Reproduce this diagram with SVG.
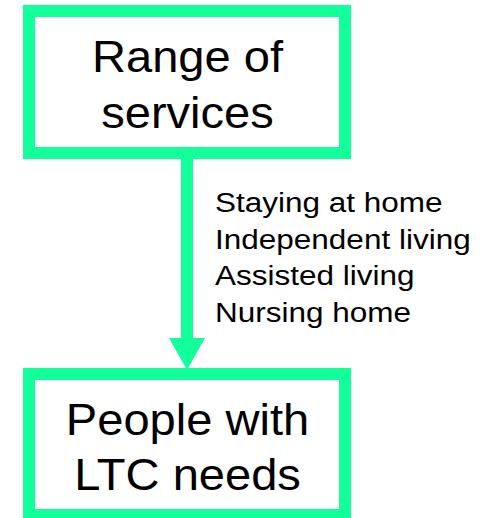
<svg xmlns="http://www.w3.org/2000/svg" width="498" height="518" viewBox="0 0 498 518">
  <style>
    .box { fill: #ffffff; stroke: #12FF9A; stroke-width: 12; }
    .big { font-family: "Liberation Sans", Arial, sans-serif; font-size: 44px; fill: #000000; text-anchor: middle; }
    .small { font-family: "Liberation Sans", Arial, sans-serif; font-size: 28px; fill: #000000; }
    .arrow { fill: #12FF9A; stroke: none; }
  </style>
  <rect width="498" height="518" fill="#ffffff"/>
  <g id="connectors">
    <rect class="arrow" x="181" y="158" width="12" height="182"/>
    <polygon class="arrow" points="169,338 205,338 187,370"/>
    <g id="connector-label" transform="translate(215,0) scale(1.125,1)">
      <text class="small" x="0" y="212">Staying at home</text>
      <text class="small" x="0" y="248.7">Independent living</text>
      <text class="small" x="0" y="285.3">Assisted living</text>
      <text class="small" x="0" y="322">Nursing home</text>
    </g>
  </g>
  <g id="node-range-of-services">
    <rect class="box" x="29" y="11" width="316" height="142"/>
    <g transform="translate(187.5,0) scale(1.07,1)">
      <text class="big" x="0" y="72">Range of</text>
      <text class="big" x="0" y="128">services</text>
    </g>
  </g>
  <g id="node-people-ltc">
    <rect class="box" x="29" y="374" width="316" height="141"/>
    <g transform="translate(187.5,0) scale(1.07,1)">
      <text class="big" x="0" y="435">People with</text>
      <text class="big" x="0" y="490">LTC needs</text>
    </g>
  </g>
</svg>
